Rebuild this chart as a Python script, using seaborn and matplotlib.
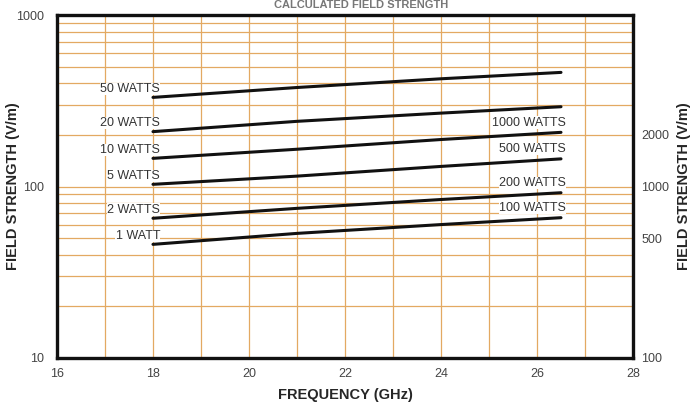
import numpy as np
import pandas as pd
import matplotlib
matplotlib.use('Agg')
import matplotlib.pyplot as plt
import matplotlib.ticker as mticker
import seaborn as sns

# --- data ---
freq_ghz = [18, 21, 24, 26.5]
watts_50 = [331, 378, 425, 463]
watts_20 = [209, 240, 268, 292]
watts_10 = [146, 165, 188, 207]
watts_5 = [103, 115, 131, 145]
watts_2 = [65.3, 74.6, 84, 92]
watts_1 = [46, 53.3, 60, 65.8]

series_names = ["50 WATTS", "20 WATTS", "10 WATTS", "5 WATTS", "2 WATTS", "1 WATT"]
right_names = ["1000 WATTS", "500 WATTS", "200 WATTS", "100 WATTS"]
x_ticks = [16, 18, 20, 22, 24, 26, 28]
left_ticks = [10, 100, 1000]
right_ticks = [100, 500, 1000, 2000]

series = [watts_50, watts_20, watts_10, watts_5, watts_2, watts_1]
df = pd.concat([
    pd.DataFrame({"freq": freq_ghz, "field": vals, "power": name})
    for name, vals in zip(series_names, series)
])

sns.set_theme(style="white")
plt.rcParams['font.family'] = ['Liberation Sans', 'DejaVu Sans']

grid_col = "#E3A962"
fig = plt.figure(figsize=(6.94, 4.07), dpi=100)
ax = fig.add_axes([0.0821, 0.1204, 0.8300, 0.8426])

# grid first, behind everything
ax.set_yscale("log")
ax.set_xlim(16, 28)
ax.set_ylim(10, 1000)
ax.xaxis.set_major_locator(mticker.FixedLocator(x_ticks))
ax.xaxis.set_minor_locator(mticker.MultipleLocator(1))
ax.yaxis.set_major_locator(mticker.FixedLocator(left_ticks))
ax.yaxis.set_minor_locator(mticker.LogLocator(base=10, subs=np.arange(2, 10)))
ax.yaxis.set_minor_formatter(mticker.NullFormatter())
ax.yaxis.set_major_formatter(mticker.FuncFormatter(lambda v, p: f"{v:g}"))
ax.grid(True, which="both", color=grid_col, linewidth=0.9)
ax.set_axisbelow(True)

sns.lineplot(data=df, x="freq", y="field", hue="power",
             palette={n: "#111111" for n in series_names},
             linewidth=2.2, legend=False, ax=ax)

for sp in ax.spines.values():
    sp.set_color("#111111")
    sp.set_linewidth(2.4)

ax.tick_params(axis="y", which="both", length=0, labelsize=9,
               labelcolor="#444444", pad=9)
ax.tick_params(axis="x", which="both", length=0, labelsize=9,
               labelcolor="#444444", pad=7)
ax.set_xlabel("FREQUENCY (GHz)", fontsize=10.5, fontweight="bold", labelpad=6)
ax.set_ylabel("FIELD STRENGTH (V/m)", fontsize=10.5, fontweight="bold")
ax.yaxis.set_label_coords(-0.064, 0.5)

# left labels above start of each line
for name, vals in zip(series_names, series):
    ax.text(18.15, vals[0] * 1.035, name, ha="right", va="bottom", fontsize=9,
            color="#333333",
            bbox=dict(facecolor="white", edgecolor="none", pad=0.2))

# right labels for the x10 scale (10 W -> 1000 W etc.)
for name, vals in zip(right_names, series[2:]):
    ax.text(26.6, vals[-1] * 1.05, name, ha="right", va="bottom", fontsize=9,
            color="#333333",
            bbox=dict(facecolor="white", edgecolor="none", pad=0.2))

# right axis: field strength for 100x power
ax2 = ax.twinx()
ax2.set_yscale("log")
ax2.set_ylim(100, 10000)
ax2.yaxis.set_major_locator(mticker.FixedLocator(right_ticks))
ax2.yaxis.set_minor_locator(mticker.NullLocator())
ax2.yaxis.set_major_formatter(mticker.FuncFormatter(lambda v, p: f"{v:g}"))
ax2.tick_params(axis="y", length=0, labelsize=9, labelcolor="#444444", pad=6)
ax2.set_ylabel("FIELD STRENGTH (V/m)", fontsize=10.5, fontweight="bold")
ax2.yaxis.set_label_coords(1.076, 0.5)
for sp in ax2.spines.values():
    sp.set_visible(False)

# title squeezed into the strip above the frame
fig.text(0.52, 0.999, "CALCULATED FIELD STRENGTH", ha="center", va="top",
         fontsize=8, fontweight="bold", color="#777777")

fig.savefig("out.png", dpi=100)
